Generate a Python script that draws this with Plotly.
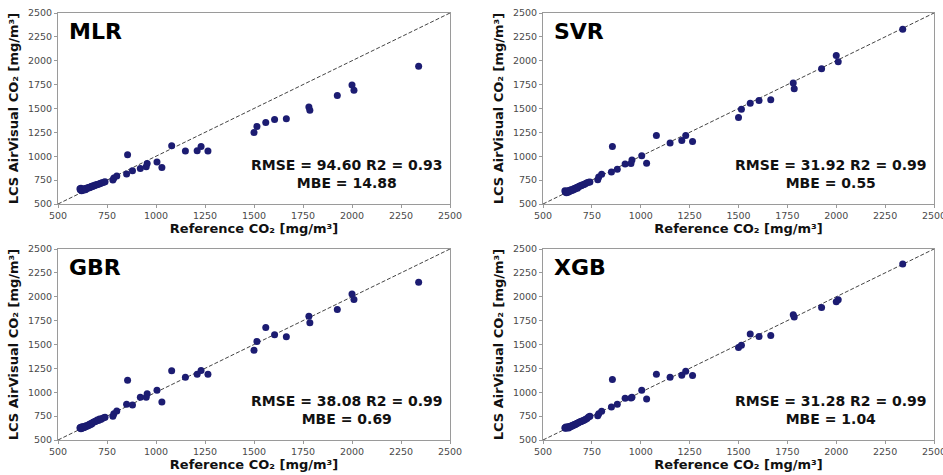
import plotly.graph_objects as go

# ---------------- data ----------------
models = ["MLR", "SVR", "GBR", "XGB"]

ref_co2 = [612, 614, 617, 620, 622, 625, 628, 631, 634, 637, 640, 644, 648, 652, 656,
           660, 664, 668, 672, 676, 680, 685, 690, 695, 700, 706, 712, 718, 725, 733,
           740, 780, 785, 800, 850, 855, 880, 920, 950, 955, 1005, 1030, 1080, 1150,
           1210, 1230, 1265, 1500, 1515, 1560, 1605, 1665, 1780, 1785, 1925, 2000,
           2010, 2340]

mlr_pred = [660, 648, 665, 640, 655, 650, 645, 658, 652, 660, 648, 665, 662, 670, 668,
            675, 672, 680, 685, 683, 690, 692, 698, 700, 705, 708, 712, 716, 722, 728,
            733, 751, 772, 793, 814, 1016, 848, 873, 890, 925, 939, 883, 1110, 1054,
            1057, 1103, 1054, 1249, 1312, 1354, 1385, 1392, 1517, 1482, 1636, 1747,
            1691, 1942]

svr_pred = [640, 625, 632, 618, 635, 628, 622, 640, 630, 645, 635, 650, 642, 655, 648,
            662, 656, 668, 672, 666, 680, 684, 690, 692, 698, 702, 708, 715, 722, 728,
            731, 755, 783, 811, 836, 1101, 864, 920, 923, 962, 1004, 927, 1217, 1140,
            1164, 1217, 1154, 1406, 1493, 1556, 1584, 1591, 1766, 1706, 1916, 2056,
            1990, 2329]

gbr_pred = [625, 630, 618, 635, 622, 640, 628, 636, 632, 645, 638, 650, 645, 655, 652,
            665, 660, 672, 668, 680, 685, 690, 695, 700, 710, 705, 720, 715, 725, 732,
            738, 748, 776, 804, 874, 1126, 867, 948, 948, 983, 1021, 899, 1224, 1157,
            1189, 1227, 1189, 1441, 1532, 1678, 1602, 1580, 1797, 1727, 1867, 2028,
            1972, 2151]

xgb_pred = [628, 622, 635, 625, 632, 630, 638, 626, 640, 636, 645, 642, 652, 648, 658,
            662, 660, 668, 672, 675, 680, 686, 692, 694, 700, 704, 710, 716, 724, 741,
            748, 755, 776, 801, 846, 1133, 874, 937, 941, 948, 1021, 930, 1189, 1157,
            1178, 1220, 1175, 1469, 1493, 1609, 1584, 1595, 1812, 1787, 1888, 1948,
            1969, 2343]

rmse = ["94.60", "31.92", "38.08", "31.28"]
r2 = ["0.93", "0.99", "0.99", "0.99"]
mbe = ["14.88", "0.55", "0.69", "1.04"]

axis_range = [500, 2500]
tick_vals = [500, 750, 1000, 1250, 1500, 1750, 2000, 2250, 2500]

preds = [mlr_pred, svr_pred, gbr_pred, xgb_pred]

# ---------------- layout ----------------
W, H = 943, 475
# plot areas in pixels: (left, right, top, bottom)
boxes = [(58, 450, 13, 204), (543, 934, 13, 204),
         (58, 450, 249, 440), (543, 934, 249, 440)]

fig = go.Figure()
font_family = "DejaVu Sans"
tick_font = dict(family=font_family, size=9.5, color="#4a4a4a")
title_font = dict(family=font_family, size=13, color="#111111")

for i, (name, pred) in enumerate(zip(models, preds)):
    n = i + 1
    xa = "x" if n == 1 else f"x{n}"
    ya = "y" if n == 1 else f"y{n}"
    fig.add_trace(go.Scatter(
        x=axis_range, y=axis_range, mode="lines",
        line=dict(color="#444444", width=1, dash="4px,2px"),
        xaxis=xa, yaxis=ya, showlegend=False, hoverinfo="skip"))
    fig.add_trace(go.Scatter(
        x=ref_co2, y=pred, mode="markers",
        marker=dict(color="#1c1c72", size=7, line=dict(width=0)),
        xaxis=xa, yaxis=ya, showlegend=False))

    l, r, t, b = boxes[i]
    xkey = "xaxis" if n == 1 else f"xaxis{n}"
    ykey = "yaxis" if n == 1 else f"yaxis{n}"
    axis_common = dict(range=axis_range, tickvals=tick_vals, showgrid=False,
                       zeroline=False, showline=True, mirror=True,
                       linecolor="#9a9a9a", linewidth=1,
                       ticks="outside", ticklen=3, tickcolor="#9a9a9a",
                       tickfont=tick_font, automargin=False,
                       ticklabeloverflow="allow")
    fig.layout[xkey] = dict(axis_common, domain=[l / W, r / W], anchor=ya,
                            title=dict(text="<b>Reference CO₂ [mg/m³]</b>",
                                       font=title_font, standoff=3))
    fig.layout[ykey] = dict(axis_common, domain=[(H - b) / H, (H - t) / H], anchor=xa,
                            title=dict(text="<b>LCS AirVisual CO₂ [mg/m³]</b>",
                                       font=title_font, standoff=6))

    fig.add_annotation(x=546, y=2311, xref=xa, yref=ya, text=f"<b>{name}</b>",
                       showarrow=False, xanchor="left", yanchor="middle",
                       font=dict(family=font_family, size=22, color="#000000"))
    fig.add_annotation(x=2474, y=814, xref=xa, yref=ya,
                       text=f"<b>RMSE = {rmse[i]} R2 = {r2[i]}<br>MBE = {mbe[i]}</b>",
                       showarrow=False, xanchor="right", yanchor="middle", align="center",
                       font=dict(family=font_family, size=14, color="#111111"))

fig.update_layout(width=W, height=H, autosize=False,
                  margin=dict(l=0, r=0, t=0, b=0),
                  paper_bgcolor="white", plot_bgcolor="white")

fig.write_html("out.html", config={"displayModeBar": False},
               post_script="document.body.style.margin='0';document.body.style.padding='0';")
